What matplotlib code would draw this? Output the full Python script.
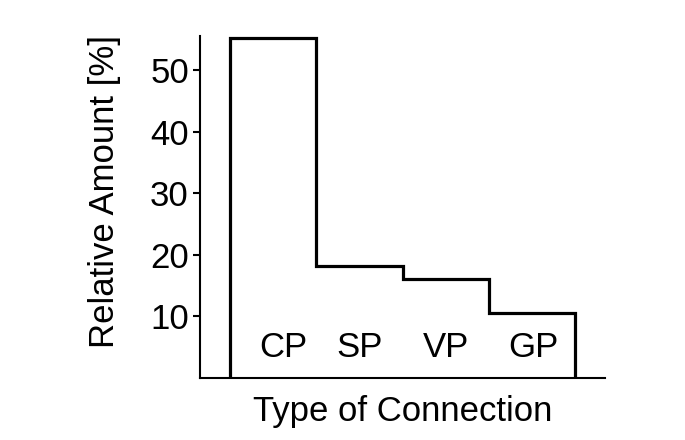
import matplotlib
matplotlib.use("Agg")
import matplotlib.pyplot as plt
import numpy as np

categories = ["CP", "SP", "VP", "GP"]
values = [55.2, 18.1, 16.1, 10.5]
yticks = [10, 20, 30, 40, 50]

plt.rcParams['font.family'] = ['Liberation Sans', 'DejaVu Sans']
FS = 25

fig = plt.figure(figsize=(6.85, 4.4), dpi=100)
ax = fig.add_axes([200/685, 62/440, 405/685, 342/440])

edges = np.arange(len(values) + 1)
ax.stairs(values, edges, baseline=0, fill=False, color='black', linewidth=2.3)

label_shift = [0.12, 0.0, 0.0, 0.02]
centers = edges[:-1] + 0.5
for c, sh, lab in zip(centers, label_shift, categories):
    ax.text(c + sh, 5, lab, ha='center', va='center', fontsize=FS)

ax.set_xlim(-0.35, 4.35)
ax.set_ylim(0, 55.5)
ax.set_xticks([])
ax.set_yticks(yticks)
ax.tick_params(axis='y', labelsize=FS, length=5, width=1.5, direction='out', pad=3)
for s in ['top', 'right']:
    ax.spines[s].set_visible(False)
for s in ['left', 'bottom']:
    ax.spines[s].set_linewidth(1.5)
ax.set_xlabel("Type of Connection", fontsize=FS, labelpad=12)
ax.set_ylabel("Relative Amount [%]", fontsize=FS, labelpad=21)
ax.yaxis.label.set_y(0.545)

fig.savefig("out.png", dpi=100)
